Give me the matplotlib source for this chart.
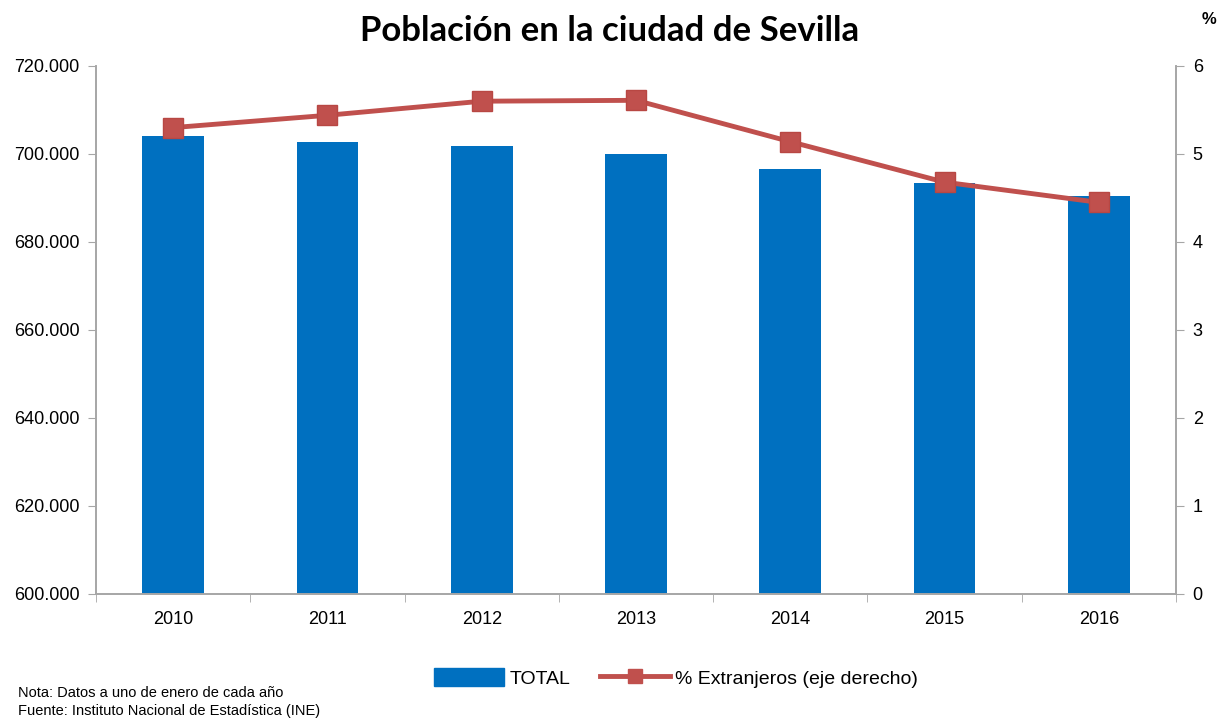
import matplotlib
matplotlib.use("Agg")
import matplotlib.pyplot as plt
from matplotlib.ticker import FuncFormatter
from matplotlib.lines import Line2D
from matplotlib.patches import Patch

years = ["2010", "2011", "2012", "2013", "2014", "2015", "2016"]
total = [704100, 702700, 701900, 700100, 696600, 693500, 690500]
pct_extranjeros = [5.30, 5.44, 5.60, 5.61, 5.14, 4.68, 4.45]
left_ticks = [600000, 620000, 640000, 660000, 680000, 700000, 720000]
right_ticks = [0, 1, 2, 3, 4, 5, 6]

plt.rcParams['font.family'] = ['Liberation Sans', 'DejaVu Sans']

BLUE = "#0070C0"
RED = "#C0504D"
GRAY = "#A6A6A6"

fig = plt.figure(figsize=(12.2, 7.22), dpi=100)
ax = fig.add_axes([96/1220, 1-594/722, 1080/1220, 528/722])
ax2 = ax.twinx()

x = list(range(len(years)))
ax.bar(x, total, width=0.40, color=BLUE, zorder=2)
ax.set_ylim(600000, 720000)
ax.set_xlim(-0.5, len(years) - 0.5)
ax.set_yticks(left_ticks)
ax.yaxis.set_major_formatter(FuncFormatter(lambda v, p: f"{int(v):,}".replace(",", ".")))
ax.set_xticks(x)
ax.set_xticklabels(years)
ax.set_xticks([i + 0.5 for i in range(-1, len(years))], minor=True)
ax.tick_params(axis='x', which='major', length=0, pad=12, labelsize=13)
ax.tick_params(axis='x', which='minor', length=6, color=GRAY, direction='out')
ax.tick_params(axis='y', length=6, color=GRAY, labelsize=13, pad=6)

ax2.plot(x, pct_extranjeros, color=RED, lw=3.5, marker='s', markersize=14,
         markerfacecolor=RED, markeredgecolor="#B84743", zorder=3)
ax2.set_ylim(0, 6)
ax2.set_yticks(right_ticks)
ax2.tick_params(axis='y', length=6, color=GRAY, labelsize=13, pad=6)

for a in (ax, ax2):
    a.spines['top'].set_visible(False)
    for s in ('left', 'right', 'bottom'):
        a.spines[s].set_color(GRAY)
        a.spines[s].set_linewidth(1.2)

fig.text(610/1220, 1-31/722, "Población en la ciudad de Sevilla", ha='center', va='center',
         fontsize=25, fontweight='bold', family=['Lato', 'DejaVu Sans'])
fig.text(1209/1220, 1-20/722, "%", ha='center', va='center', fontsize=12, fontweight='bold')

handles = [Patch(facecolor=BLUE, edgecolor=BLUE),
           Line2D([0], [0], color=RED, lw=3.5, marker='s', markersize=10, markerfacecolor=RED)]
fig.legend(handles, ["TOTAL", "% Extranjeros (eje derecho)"], loc='center',
           bbox_to_anchor=(676/1220, 1-678/722), ncol=2, frameon=False, fontsize=14,
           handlelength=3.6, handleheight=1.0, columnspacing=1.5, handletextpad=0.3)

fig.text(18/1220, 1-693/722, "Nota: Datos a uno de enero de cada año", ha='left', va='center',
         fontsize=10.5, family=['Liberation Sans Narrow', 'Liberation Sans'])
fig.text(18/1220, 1-711/722, "Fuente: Instituto Nacional de Estadística (INE)", ha='left', va='center',
         fontsize=10.5, family=['Liberation Sans Narrow', 'Liberation Sans'])

fig.savefig("out.png", dpi=100)
